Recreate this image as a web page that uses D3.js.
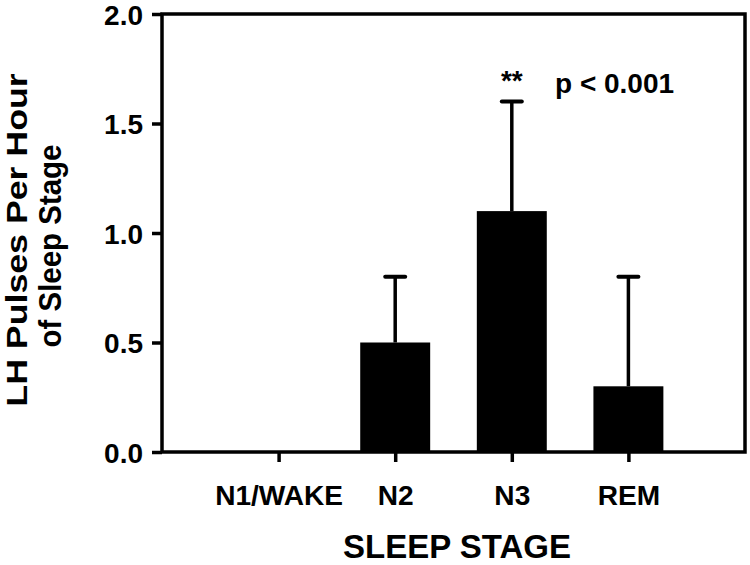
<!DOCTYPE html>
<html lang="en">
<head>
	<meta charset="utf-8">
	<title>LH pulses per hour of sleep stage</title>
	<script src="https://d3js.org/d3.v7.min.js"></script>
	<style type="text/css">
		body { margin: 0; background: #fff; }
		text {
			font-family: "Liberation Sans", Arial, sans-serif;
			font-weight: bold;
			fill: #000;
		}
	</style>
</head>
<body>
<script type="text/javascript">

	// Data
	var stages = ["N1/WAKE", "N2", "N3", "REM"];
	var pulses = [0, 0.5, 1.1, 0.3];        // mean LH pulses per hour
	var errorTop = [0, 0.8, 1.6, 0.8];      // top of error bar
	var yTicks = [0, 0.5, 1.0, 1.5, 2.0];

	var width = 750, height = 565;
	var plot = {left: 162, right: 745, top: 14, bottom: 452};

	var svg = d3.select("body").append("svg")
		.attr("width", width)
		.attr("height", height);

	// Scales: five slots, categories sit at 1..4
	var xScale = d3.scaleLinear().domain([0, 5]).range([plot.left, plot.right]);
	var yScale = d3.scaleLinear().domain([0, 2]).range([plot.bottom, plot.top]);
	var barWidth = xScale(0.6) - xScale(0);

	// stretch a text element along its own direction
	function widen(sel, k) {
		sel.each(function() {
			var len = this.getComputedTextLength();
			d3.select(this)
				.attr("textLength", len * k)
				.attr("lengthAdjust", "spacingAndGlyphs");
		});
	}

	// Bars
	svg.selectAll("rect.bar")
		.data(pulses)
		.enter().append("rect")
		.attr("class", "bar")
		.attr("x", function(d, i) { return xScale(i + 1) - barWidth / 2; })
		.attr("y", function(d) { return yScale(d); })
		.attr("width", barWidth)
		.attr("height", function(d) { return yScale(0) - yScale(d); })
		.attr("fill", "#000");

	// Error bars (upper only)
	var errData = errorTop.map(function(d, i) { return {i: i, lo: pulses[i], hi: d}; })
		.filter(function(d) { return d.hi > d.lo; });

	var eg = svg.selectAll("g.err")
		.data(errData)
		.enter().append("g")
		.attr("class", "err");

	eg.append("line")
		.attr("x1", function(d) { return xScale(d.i + 1); })
		.attr("x2", function(d) { return xScale(d.i + 1); })
		.attr("y1", function(d) { return yScale(d.lo); })
		.attr("y2", function(d) { return yScale(d.hi); })
		.attr("stroke", "#000")
		.attr("stroke-width", 3.5);

	eg.append("line")
		.attr("x1", function(d) { return xScale(d.i + 1) - 10; })
		.attr("x2", function(d) { return xScale(d.i + 1) + 10; })
		.attr("y1", function(d) { return yScale(d.hi); })
		.attr("y2", function(d) { return yScale(d.hi); })
		.attr("stroke", "#000")
		.attr("stroke-width", 4)
		.attr("stroke-linecap", "round");

	// Frame
	svg.append("rect")
		.attr("x", plot.left)
		.attr("y", plot.top)
		.attr("width", plot.right - plot.left)
		.attr("height", plot.bottom - plot.top)
		.attr("fill", "none")
		.attr("stroke", "#000")
		.attr("stroke-width", 3.5);

	// Y axis
	var yAxis = d3.axisLeft(yScale)
		.tickValues(yTicks)
		.tickFormat(d3.format(".1f"))
		.tickSize(10)
		.tickPadding(9);

	var gy = svg.append("g")
		.attr("transform", "translate(" + plot.left + ",0)")
		.call(yAxis);
	gy.select(".domain").remove();
	gy.selectAll(".tick line").attr("stroke-width", 3.5);
	gy.selectAll(".tick text")
		.attr("font-size", 28)
		.attr("font-family", null)
		.attr("fill", "#000")
		.attr("dy", "0.36em");

	// X axis
	var xAxis = d3.axisBottom(xScale)
		.tickValues([1, 2, 3, 4])
		.tickFormat(function(d) { return stages[d - 1]; })
		.tickSize(10)
		.tickPadding(24);

	var gx = svg.append("g")
		.attr("transform", "translate(0," + plot.bottom + ")")
		.call(xAxis);
	gx.select(".domain").remove();
	gx.selectAll(".tick line").attr("stroke-width", 3.5);
	gx.selectAll(".tick text")
		.attr("font-size", 27)
		.attr("font-family", null)
		.attr("fill", "#000")
		.call(widen, 1.04);

	// Axis titles
	svg.append("text")
		.attr("x", 457)
		.attr("y", 558)
		.attr("text-anchor", "middle")
		.attr("font-size", 33)
		.text("SLEEP STAGE");

	var yTitle = svg.append("g")
		.attr("transform", "rotate(-90)");
	yTitle.append("text")
		.attr("x", -240)
		.attr("y", 27)
		.attr("text-anchor", "middle")
		.attr("font-size", 30)
		.text("LH Pulses Per Hour")
		.call(widen, 1.19);
	yTitle.append("text")
		.attr("x", -246)
		.attr("y", 61)
		.attr("text-anchor", "middle")
		.attr("font-size", 31)
		.text("of Sleep Stage")
		.call(widen, 0.95);

	// Significance annotation
	svg.append("text")
		.attr("x", xScale(3))
		.attr("y", 90)
		.attr("text-anchor", "middle")
		.attr("font-size", 28)
		.text("**");

	svg.append("text")
		.attr("x", 555)
		.attr("y", 93)
		.attr("font-size", 28)
		.text("p < 0.001");

</script>
</body>
</html>
